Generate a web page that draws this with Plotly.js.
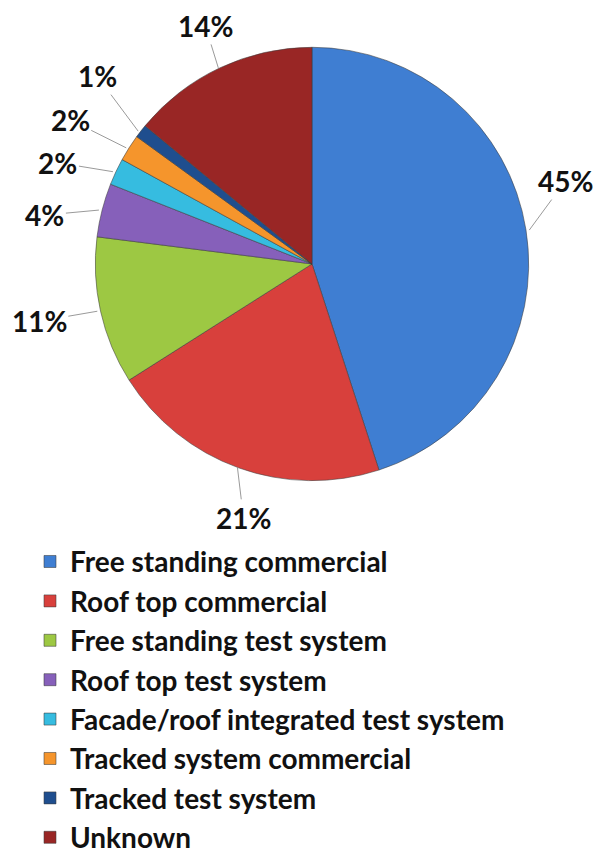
<!DOCTYPE html>
<html>
<head>
<meta charset="utf-8">
<script src="https://cdn.plot.ly/plotly-3.0.1.min.js"></script>
<style>html,body{margin:0;padding:0;background:#fff;}#chart{width:598px;height:863px;}</style>
</head>
<body>
<div id="chart"></div>
<script>
// ---- data ----
const categories = [
  "Free standing commercial",
  "Roof top commercial",
  "Free standing test system",
  "Roof top test system",
  "Facade/roof integrated test system",
  "Tracked system commercial",
  "Tracked test system",
  "Unknown"
];
const shares = [45, 21, 11, 4, 2, 2, 1, 14];
const percentLabels = ["45%", "21%", "11%", "4%", "2%", "2%", "1%", "14%"];
const sliceColors = ["#3F7ED2", "#D8403C", "#9DC843", "#8660BA", "#36BCE0", "#F5952C", "#1F4E8E", "#992625"];

// ---- layout / geometry (not data) ----
const W = 598, H = 863;
const CX = 312, CY = 268, R = 220;               // pie centre and radius in px
const labelOffsets = [[36,-49],[6,50],[-58,10],[-54,5],[-55,-9],[-56,-28],[-41,-55],[-13,-42]];

const dom = {
  x: [(CX - R) / W, (CX + R) / W],
  y: [1 - (CY + R) / H, 1 - (CY - R) / H]
};

const total = shares.reduce((a, b) => a + b, 0);
let cum = 0;
const annotations = shares.map((v, i) => {
  const mid = (cum + v / 2) / total * 2 * Math.PI;
  cum += v;
  const px = CX + R * Math.sin(mid);
  const py = CY - R * Math.cos(mid);
  return {
    xref: "paper", yref: "paper",
    x: px / W, y: 1 - py / H,
    text: percentLabels[i],
    showarrow: true, arrowhead: 0, arrowwidth: 1, arrowcolor: "#9a9a9a",
    ax: labelOffsets[i][0], ay: labelOffsets[i][1],
    standoff: 0, startstandoff: 0,
    font: { family: "Lato, 'Open Sans', sans-serif", size: 28, color: "#111", weight: 700 }
  };
});

const trace = {
  type: "pie",
  labels: categories,
  values: shares,
  sort: false,
  direction: "clockwise",
  rotation: 0,
  textinfo: "none",
  hoverinfo: "label+percent",
  domain: dom,
  marker: { colors: sliceColors, line: { color: "rgba(60,60,60,0.55)", width: 1 } }
};

const layout = {
  width: W, height: H,
  margin: { l: 0, r: 0, t: 0, b: 0 },
  paper_bgcolor: "#fff",
  showlegend: true,
  legend: {
    x: 30 / W, xanchor: "left",
    y: 1 - 545 / H, yanchor: "top",
    orientation: "v",
    font: { family: "Lato, 'Open Sans', sans-serif", size: 28, color: "#111", weight: 700 },
    bgcolor: "rgba(0,0,0,0)"
  },
  annotations: annotations
};

Plotly.newPlot("chart", [trace], layout, { displayModeBar: false, staticPlot: true });
</script>
</body>
</html>
